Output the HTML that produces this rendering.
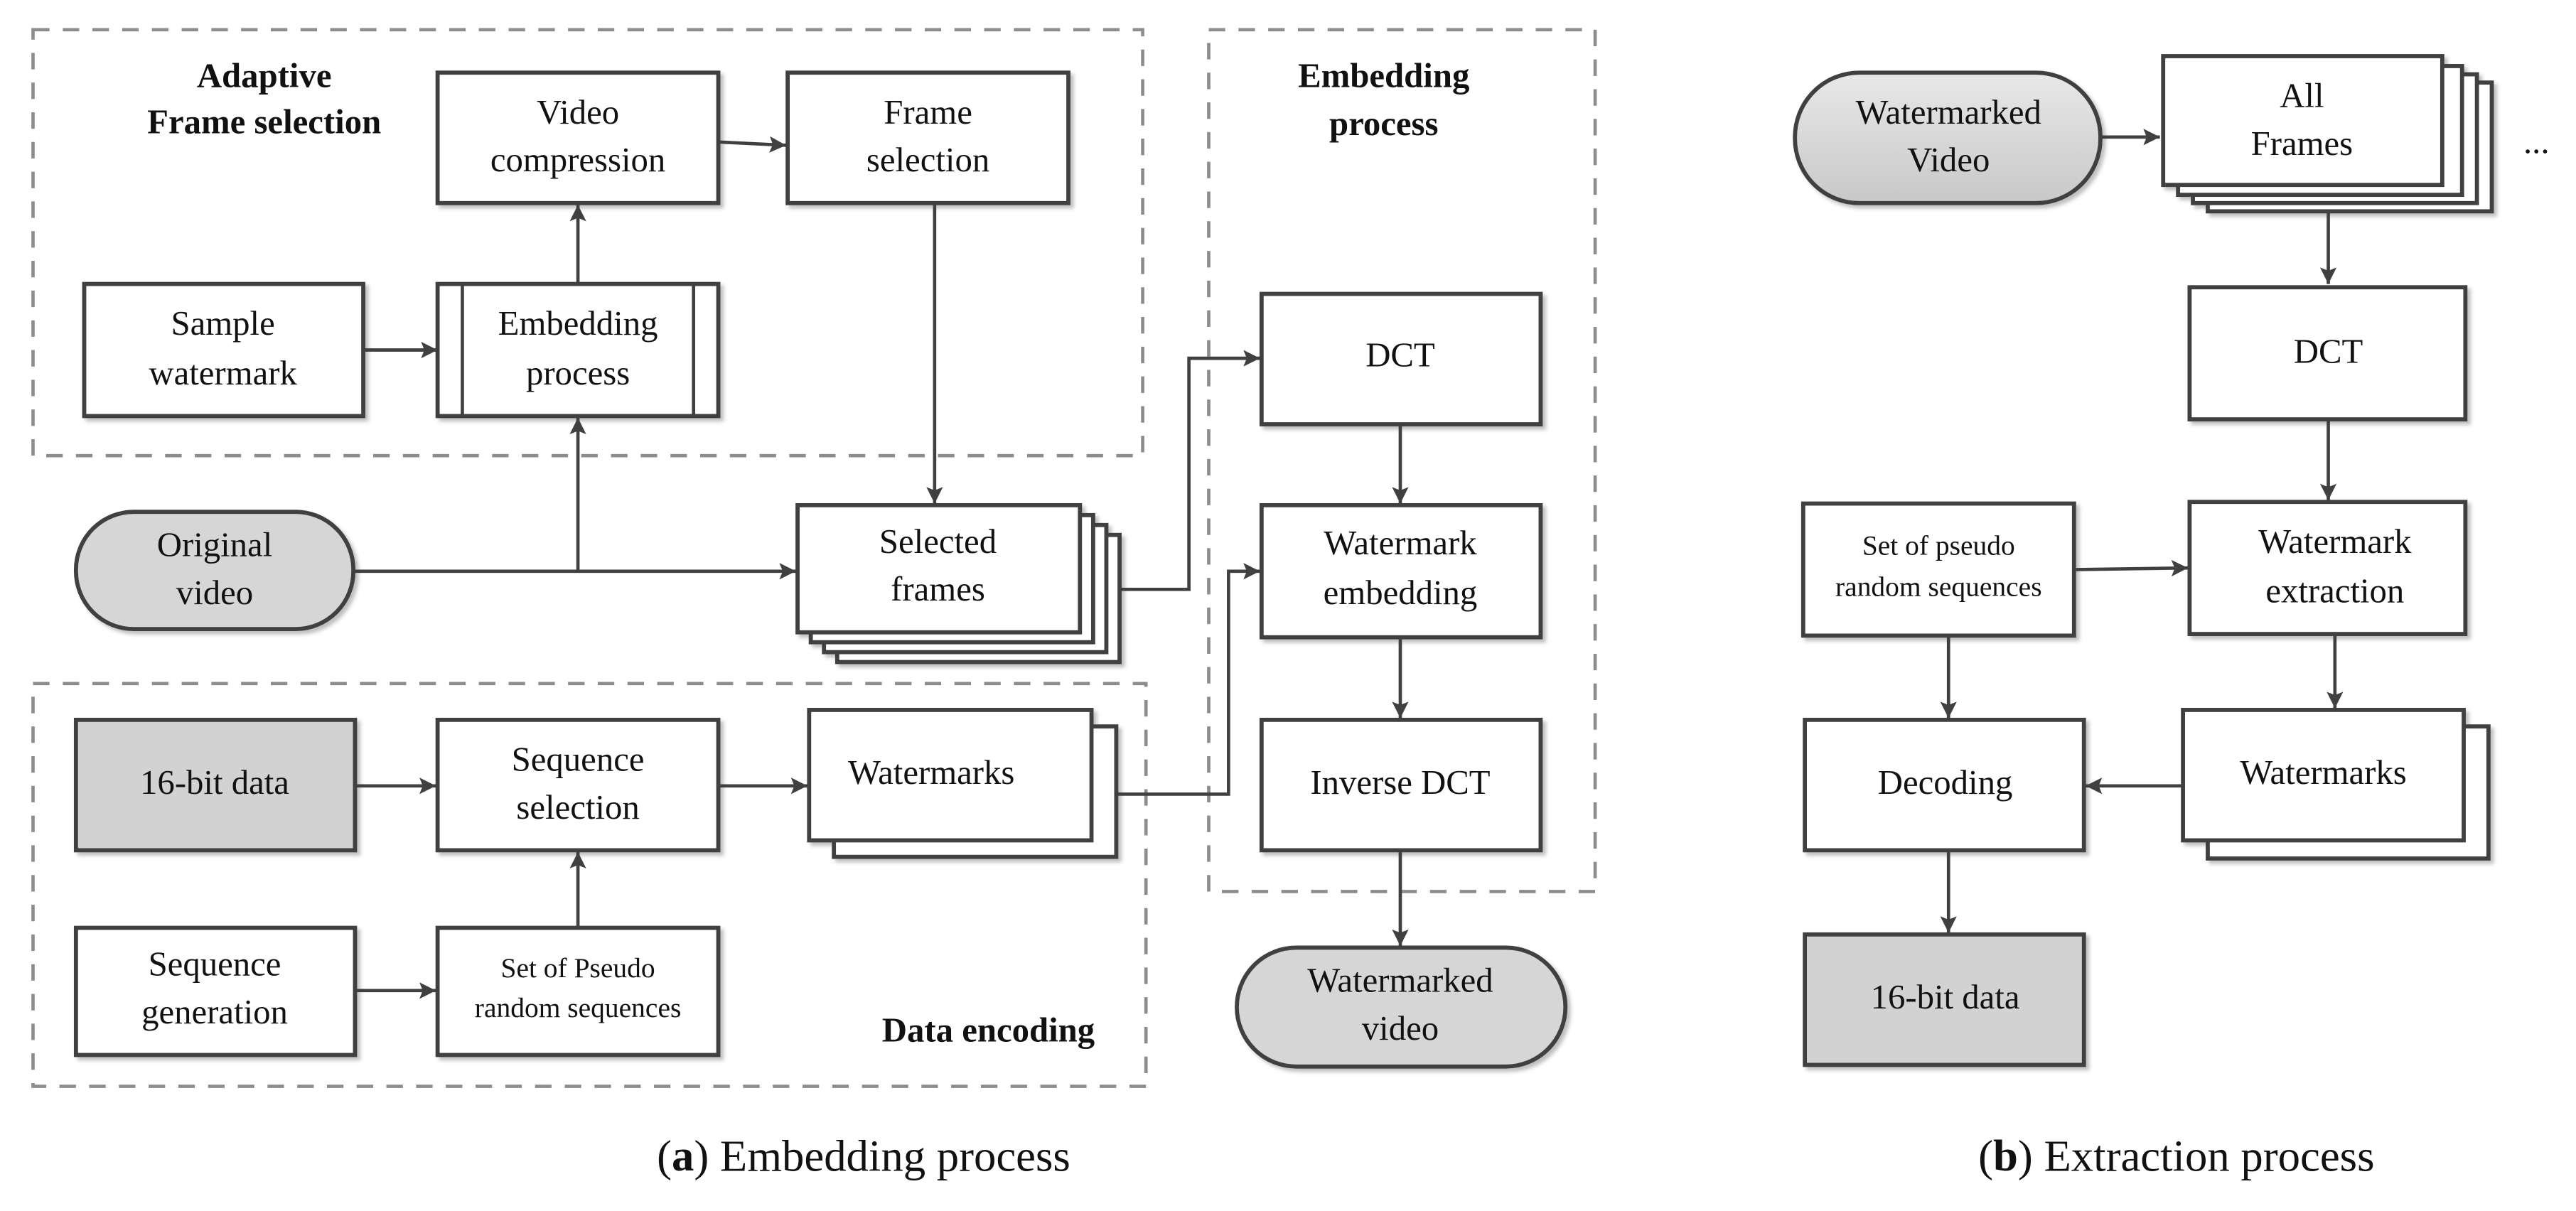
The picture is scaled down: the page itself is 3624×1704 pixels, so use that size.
<!DOCTYPE html>
<html><head><meta charset="utf-8"><style>html,body{margin:0;padding:0;background:#fff}svg{display:block}</style></head>
<body>
<svg width="3624" height="1704" viewBox="0 0 1560 733.5" xmlns="http://www.w3.org/2000/svg" font-family="Liberation Serif, serif">
<defs>
<marker id="ar" viewBox="0 0 10 10" refX="10" refY="5" markerWidth="10" markerHeight="10" orient="auto" markerUnits="userSpaceOnUse"><path d="M0,0 L10,5 L0,10 L2,5 z" fill="#404040"/></marker>
<linearGradient id="g" x1="0" y1="0" x2="0" y2="1"><stop offset="0" stop-color="#e8e8e8"/><stop offset="1" stop-color="#c8c8c8"/></linearGradient>
<filter id="sh" x="-10%" y="-10%" width="130%" height="130%"><feDropShadow dx="2" dy="2" stdDeviation="1.2" flood-color="#000" flood-opacity="0.25"/></filter>
</defs>
<rect width="1560" height="733.5" fill="#fff"/>
<g fill="none" stroke="#8c8c8c" stroke-width="2" stroke-dasharray="10,8">
<rect x="20" y="18" width="672" height="258"/>
<rect x="732" y="18" width="234" height="522"/>
<rect x="20" y="414" width="674" height="244"/>
</g>
<g stroke="#404040" stroke-width="2.5" fill="#fff" filter="url(#sh)">
<rect x="265" y="44" width="170" height="79"/>
<rect x="477" y="44" width="170" height="79"/>
<rect x="51" y="172" width="169" height="80"/>
<rect x="265" y="172" width="170" height="80"/>
<rect x="46" y="310" width="168" height="71" rx="35" fill="#d6d6d6"/>
<rect x="507" y="324" width="171" height="77"/>
<rect x="499" y="318" width="171" height="77"/>
<rect x="491" y="312" width="171" height="77"/>
<rect x="483" y="306" width="171" height="77"/>
<rect x="764" y="178" width="169" height="79"/>
<rect x="764" y="306" width="169" height="80"/>
<rect x="764" y="436" width="169" height="79"/>
<rect x="749" y="574" width="199" height="72" rx="36" fill="#d6d6d6"/>
<rect x="46" y="436" width="169" height="79" fill="#d2d2d2"/>
<rect x="265" y="436" width="170" height="79"/>
<rect x="505" y="440" width="171" height="79"/>
<rect x="490" y="430" width="171" height="79"/>
<rect x="46" y="562" width="169" height="77"/>
<rect x="265" y="562" width="170" height="77"/>
<rect x="1087" y="44" width="185" height="79" rx="39" fill="url(#g)"/>
<rect x="1337" y="50" width="172" height="78"/>
<rect x="1328" y="45" width="172" height="78"/>
<rect x="1319" y="40" width="172" height="78"/>
<rect x="1310" y="34" width="169" height="78"/>
<rect x="1326" y="174" width="167" height="80"/>
<rect x="1326" y="304" width="167" height="80"/>
<rect x="1092" y="305" width="164" height="80"/>
<rect x="1337" y="440" width="170" height="80"/>
<rect x="1322" y="430" width="170" height="79"/>
<rect x="1093" y="436" width="169" height="79"/>
<rect x="1093" y="566" width="169" height="79" fill="#d2d2d2"/>
</g>
<g stroke="#404040" stroke-width="2"><line x1="280" y1="172" x2="280" y2="252"/><line x1="420" y1="172" x2="420" y2="252"/></g>
<g stroke="#404040" stroke-width="2" fill="none" marker-end="url(#ar)">
<line x1="220" y1="212" x2="265" y2="212"/>
<line x1="350" y1="172" x2="350" y2="124"/>
<line x1="435" y1="86" x2="476" y2="88"/>
<line x1="566" y1="123" x2="566" y2="305"/>
<line x1="214" y1="346" x2="482" y2="346"/>
<line x1="350" y1="346" x2="350" y2="253"/>
<polyline points="678,357 720,357 720,217 763,217"/>
<polyline points="676,481 744,481 744,346 763,346"/>
<line x1="848" y1="257" x2="848" y2="305"/>
<line x1="848" y1="386" x2="848" y2="435"/>
<line x1="848" y1="515" x2="848" y2="573"/>
<line x1="215" y1="476" x2="264" y2="476"/>
<line x1="350" y1="562" x2="350" y2="516"/>
<line x1="435" y1="476" x2="489" y2="476"/>
<line x1="215" y1="600" x2="264" y2="600"/>
<line x1="1272" y1="83" x2="1308" y2="83"/>
<line x1="1410" y1="128" x2="1410" y2="172"/>
<line x1="1410" y1="254" x2="1410" y2="303"/>
<line x1="1256" y1="345" x2="1325" y2="344"/>
<line x1="1414" y1="384" x2="1414" y2="429"/>
<line x1="1322" y1="476" x2="1263" y2="476"/>
<line x1="1180" y1="385" x2="1180" y2="435"/>
<line x1="1180" y1="515" x2="1180" y2="565"/>
</g>
<g font-size="21" fill="#111" text-anchor="middle" dominant-baseline="middle">
<text x="160" y="48" font-weight="bold">Adaptive</text>
<text x="160" y="76" font-weight="bold">Frame selection</text>
<text x="838" y="48" font-weight="bold">Embedding</text>
<text x="838" y="77" font-weight="bold">process</text>
<text x="663" y="626" font-weight="bold" text-anchor="end">Data encoding</text>
<text x="350" y="70">Video</text><text x="350" y="99">compression</text>
<text x="562" y="70">Frame</text><text x="562" y="99">selection</text>
<text x="135" y="198">Sample</text><text x="135" y="228">watermark</text>
<text x="350" y="198">Embedding</text><text x="350" y="228">process</text>
<text x="130" y="332">Original</text><text x="130" y="361">video</text>
<text x="568" y="330">Selected</text><text x="568" y="359">frames</text>
<text x="848" y="217">DCT</text>
<text x="848" y="331">Watermark</text><text x="848" y="361">embedding</text>
<text x="848" y="476">Inverse DCT</text>
<text x="848" y="596">Watermarked</text><text x="848" y="625">video</text>
<text x="130" y="476">16-bit data</text>
<text x="350" y="462">Sequence</text><text x="350" y="491">selection</text>
<text x="564" y="470">Watermarks</text>
<text x="130" y="586">Sequence</text><text x="130" y="615">generation</text>
<text x="350" y="588" font-size="17">Set of Pseudo</text><text x="350" y="612" font-size="17">random sequences</text>
<text x="1180" y="70">Watermarked</text><text x="1180" y="99">Video</text>
<text x="1394" y="60">All</text><text x="1394" y="89">Frames</text>
<text x="1536" y="88">...</text>
<text x="1410" y="215">DCT</text>
<text x="1414" y="330">Watermark</text><text x="1414" y="360">extraction</text>
<text x="1174" y="332" font-size="17">Set of pseudo</text><text x="1174" y="357" font-size="17">random sequences</text>
<text x="1407" y="470">Watermarks</text>
<text x="1178" y="476">Decoding</text>
<text x="1178" y="606">16-bit data</text>
<text x="523" y="703" font-size="27">(<tspan font-weight="bold">a</tspan>) Embedding process</text>
<text x="1318" y="703" font-size="27">(<tspan font-weight="bold">b</tspan>) Extraction process</text>
</g>
</svg>
</body></html>
